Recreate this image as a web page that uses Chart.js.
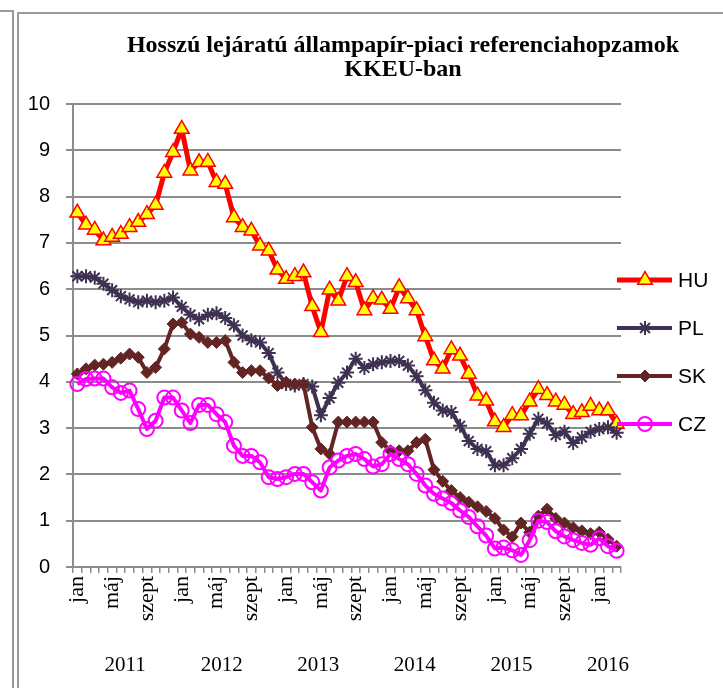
<!DOCTYPE html>
<html>
<head>
<meta charset="utf-8">
<script src="https://cdn.jsdelivr.net/npm/chart.js@4.4.1/dist/chart.umd.min.js"></script>
<style>
  html, body { margin: 0; padding: 0; background: #fff; }
  #wrap { position: relative; width: 723px; height: 688px; overflow: hidden; }
  #chart { position: absolute; left: 0; top: 0; }
  .frame { position: absolute; border: 2px solid #9a9a9a; }
</style>
</head>
<body>
<div id="wrap">
  <div class="frame" style="left:-20px; top:10px; width:30px; height:700px;"></div>
  <div class="frame" style="left:17px; top:12px; width:760px; height:700px;"></div>
  <canvas id="chart" width="723" height="688"></canvas>
</div>
<script>
// Chart text
const titleLines = ['Hosszú lejáratú állampapír-piaci referenciahopzamok', 'KKEU-ban'];
const years = ['2011', '2012', '2013', '2014', '2015', '2016'];
const monthNames = ['jan', 'febr', 'márc', 'ápr', 'máj', 'jún', 'júl', 'aug', 'szept', 'okt', 'nov', 'dec'];

// Monthly yields, jan 2011 - márc 2016 (%)
const huYield = [7.65, 7.39, 7.28, 7.05, 7.13, 7.19, 7.34, 7.45, 7.62, 7.82,
                 8.51, 8.96, 9.46, 8.56, 8.74, 8.75, 8.31, 8.27, 7.55, 7.34,
                 7.26, 6.94, 6.83, 6.42, 6.22, 6.28, 6.36, 5.63, 5.07, 5.99,
                 5.75, 6.28, 6.15, 5.54, 5.80, 5.77, 5.57, 6.04, 5.80, 5.54,
                 4.98, 4.46, 4.28, 4.70, 4.56, 4.17, 3.70, 3.59, 3.14, 3.02,
                 3.28, 3.27, 3.57, 3.84, 3.71, 3.57, 3.50, 3.30, 3.34, 3.48,
                 3.38, 3.38, 3.09];
const plYield = [6.28, 6.28, 6.25, 6.12, 5.98, 5.85, 5.78, 5.72, 5.75, 5.72,
                 5.75, 5.82, 5.62, 5.45, 5.35, 5.45, 5.48, 5.38, 5.22, 5.00,
                 4.90, 4.85, 4.62, 4.20, 3.95, 3.92, 3.95, 3.90, 3.28, 3.65,
                 3.98, 4.20, 4.50, 4.30, 4.38, 4.42, 4.45, 4.45, 4.35, 4.12,
                 3.82, 3.55, 3.38, 3.35, 3.05, 2.72, 2.55, 2.50, 2.20, 2.20,
                 2.35, 2.55, 2.88, 3.20, 3.10, 2.85, 2.92, 2.68, 2.80, 2.92,
                 2.98, 3.02, 2.90];
const skYield = [4.17, 4.28, 4.36, 4.38, 4.42, 4.51, 4.60, 4.53, 4.20, 4.31,
                 4.71, 5.25, 5.28, 5.03, 4.96, 4.85, 4.85, 4.89, 4.42, 4.20,
                 4.24, 4.24, 4.08, 3.92, 3.99, 3.95, 3.95, 3.02, 2.55, 2.44,
                 3.13, 3.13, 3.13, 3.13, 3.13, 2.69, 2.51, 2.51, 2.51, 2.69,
                 2.76, 2.10, 1.85, 1.65, 1.50, 1.40, 1.30, 1.20, 1.05, 0.80,
                 0.65, 0.95, 0.75, 1.10, 1.25, 1.05, 0.95, 0.85, 0.78, 0.72,
                 0.75, 0.60, 0.45];
const czYield = [3.95, 4.06, 4.07, 4.07, 3.88, 3.76, 3.81, 3.41, 2.98, 3.16,
                 3.66, 3.66, 3.38, 3.11, 3.50, 3.50, 3.30, 3.13, 2.62, 2.40,
                 2.40, 2.26, 1.94, 1.90, 1.94, 2.01, 2.01, 1.83, 1.65, 2.15,
                 2.30, 2.40, 2.44, 2.33, 2.17, 2.22, 2.44, 2.33, 2.22, 2.01,
                 1.76, 1.58, 1.48, 1.38, 1.22, 1.08, 0.88, 0.68, 0.40, 0.42,
                 0.36, 0.26, 0.58, 1.00, 0.97, 0.77, 0.66, 0.58, 0.52, 0.48,
                 0.62, 0.45, 0.35];

// one category per month
const labels = [];
years.forEach(y => monthNames.forEach(m => labels.push(m + ' ' + y)));
labels.length = huYield.length;

const grey = '#8c8c8c';

// title, year row and the Excel-style legend
const extras = {
    id: 'extras',
    afterDraw(chart) {
        const { ctx, chartArea, scales: { x } } = chart;
        ctx.save();
        ctx.fillStyle = '#000';
        ctx.textAlign = 'center';
        ctx.textBaseline = 'middle';
        ctx.font = 'bold 24px "Liberation Serif"';
        const cx = (chartArea.left + chart.width) / 2 + 5;
        ctx.fillText(titleLines[0], cx, 46);
        ctx.fillText(titleLines[1], cx, 70);

        ctx.font = '21px "Liberation Serif"';
        const centers = years.map((y, k) => {
            const first = k * 12;
            const last = Math.min(k * 12 + 11, labels.length - 1);
            return (x.getPixelForValue(first) + x.getPixelForValue(last)) / 2;
        });
        const c0 = centers[0], c1 = centers[centers.length - 1];
        years.forEach((y, k) => {
            ctx.fillText(y, c0 + (c1 - c0) * k / (years.length - 1), 665);
        });

        chart.data.datasets.forEach((ds, k) => {
            const yy = 280 + k * 48;
            ctx.strokeStyle = ds.borderColor;
            ctx.lineWidth = ds.borderWidth;
            ctx.beginPath();
            ctx.moveTo(chartArea.right - 4, yy);
            ctx.lineTo(chartArea.right + 51, yy);
            ctx.stroke();
            ctx.fillStyle = ds.pointBackgroundColor;
            ctx.strokeStyle = ds.pointBorderColor;
            ctx.lineWidth = ds.pointBorderWidth;
            Chart.helpers.drawPoint(ctx, {
                pointStyle: ds.pointStyle, radius: ds.pointRadius,
                borderWidth: ds.pointBorderWidth, rotation: 0
            }, chartArea.right + 24, yy);
            ctx.fillStyle = '#000';
            ctx.font = '21px "Liberation Sans"';
            ctx.textAlign = 'left';
            ctx.fillText(ds.label, chartArea.right + 57, yy + 1);
        });
        ctx.restore();
    }
};

new Chart(document.getElementById('chart'), {
    type: 'line',
    data: {
        labels: labels,
        datasets: [
            {
                label: 'HU', data: huYield, order: 4,
                borderColor: '#ff0000', borderWidth: 5,
                pointStyle: 'triangle', pointRadius: 8.5,
                pointBackgroundColor: '#ffff00', pointBorderColor: '#ff0000', pointBorderWidth: 1.5
            },
            {
                label: 'PL', data: plYield, order: 3,
                borderColor: '#3f3151', borderWidth: 4,
                pointStyle: 'star', pointRadius: 7,
                pointBackgroundColor: '#3f3151', pointBorderColor: '#3f3151', pointBorderWidth: 2
            },
            {
                label: 'SK', data: skYield, order: 2,
                borderColor: '#632523', borderWidth: 4,
                pointStyle: 'rectRot', pointRadius: 6,
                pointBackgroundColor: '#632523', pointBorderColor: '#632523', pointBorderWidth: 1
            },
            {
                label: 'CZ', data: czYield, order: 1,
                borderColor: '#ff00ff', borderWidth: 4,
                pointStyle: 'circle', pointRadius: 7,
                pointBackgroundColor: 'rgba(0,0,0,0)', pointBorderColor: '#ff00ff', pointBorderWidth: 2
            }
        ]
    },
    options: {
        responsive: false,
        animation: false,
        layout: { padding: { top: 104, right: 102, left: 0, bottom: 0 } },
        elements: { line: { tension: 0, borderJoinStyle: 'round' } },
        plugins: {
            legend: { display: false },
            title: { display: false },
            tooltip: { enabled: false }
        },
        scales: {
            x: {
                type: 'category',
                offset: true,
                grid: { offset: true, drawOnChartArea: false, color: grey, lineWidth: 1.5, tickLength: 6 },
                border: { color: grey, width: 2 },
                ticks: {
                    autoSkip: false, minRotation: 90, maxRotation: 90, padding: 3,
                    color: '#000', font: { family: 'Liberation Serif', size: 22 },
                    callback: (v, i) => (i % 4 === 0 ? monthNames[i % 12] : '')
                },
                afterFit(scale) { scale.height = 121; }
            },
            y: {
                min: 0, max: 10,
                ticks: { stepSize: 1, padding: 16, color: '#000', font: { family: 'Liberation Sans', size: 20 } },
                grid: { color: grey, lineWidth: 2, tickLength: 7 },
                border: { color: grey, width: 2 },
                afterFit(scale) { scale.width = 73; }
            }
        }
    },
    plugins: [extras]
});
</script>
</body>
</html>
